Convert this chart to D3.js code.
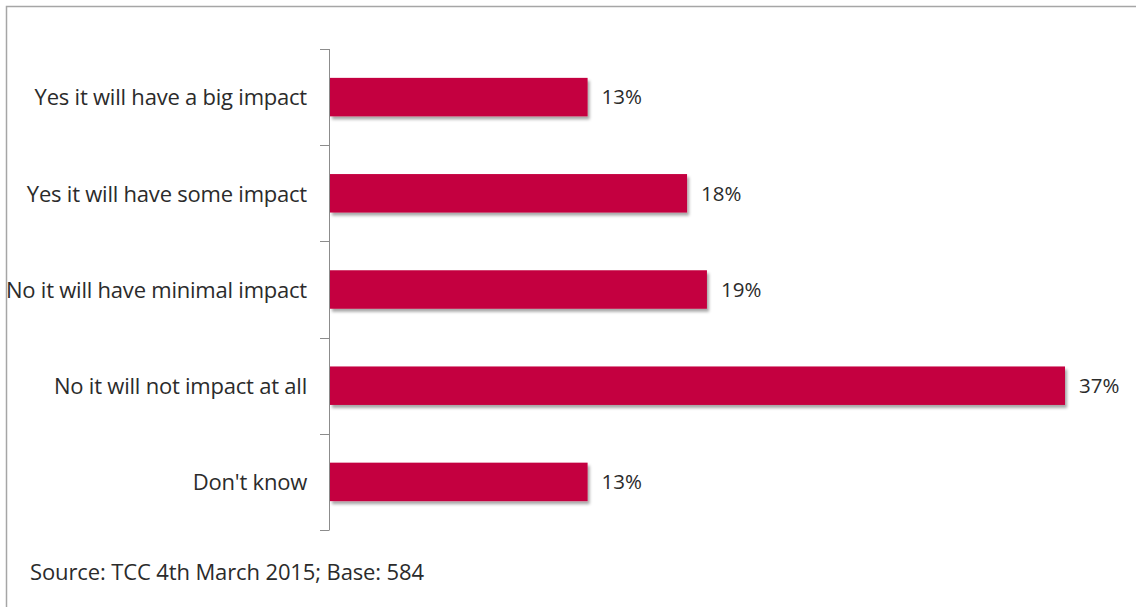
<!DOCTYPE html>
<html>
<head>
<meta charset="utf-8">
<script src="https://cdn.jsdelivr.net/npm/d3@7"></script>
<style>
  html, body { margin: 0; padding: 0; background: #fff; }
  svg { display: block; }
  text { font-family: "Open Sans", sans-serif; fill: #2b2b2b; }
</style>
</head>
<body>
<svg id="chart" width="1136" height="607"></svg>
<script>
// Survey answers, top to bottom
const categories = [
  "Yes it will have a big impact",
  "Yes it will have some impact",
  "No it will have minimal impact",
  "No it will not impact at all",
  "Don't know"
];
// Share of respondents, percent
const values = [13, 18, 19, 37, 13];
const sourceNote = "Source: TCC 4th March 2015; Base: 584";

const svg = d3.select("#chart");
const W = 1136, H = 607;
const FONT = "'Open Sans', sans-serif";

// Outer frame (top and left edges visible)
svg.append("path")
  .attr("d", `M6.5,${H} L6.5,6.5 L${W},6.5`)
  .attr("fill", "none")
  .attr("stroke", "#a6a6a6")
  .attr("stroke-width", 1.5);

const defs = svg.append("defs");
const f = defs.append("filter").attr("id", "shadow")
  .attr("x", "-5%").attr("y", "-20%").attr("width", "110%").attr("height", "160%");
f.append("feDropShadow")
  .attr("dx", 2).attr("dy", 3).attr("stdDeviation", 1.4)
  .attr("flood-color", "#000").attr("flood-opacity", 0.35);

const x0 = 329;
const x = d3.scaleLinear().domain([0, 37]).range([x0, 1065]);
const y = d3.scaleBand().domain(categories).range([49, 530])
  .paddingInner(0.6).paddingOuter(0.3);

// Category axis
const axis = d3.axisLeft(y).tickSize(0).tickPadding(22).tickFormat(d => d);
const gAxis = svg.append("g").attr("transform", `translate(${x0},0)`).call(axis);
gAxis.select(".domain").remove();
gAxis.selectAll("text")
  .attr("dy", "0.38em")
  .style("font-family", FONT)
  .style("font-size", "22px")
  .style("letter-spacing", "-0.22px")
  .attr("fill", "#2b2b2b");

// Axis line and band-boundary ticks
const bounds = d3.range(categories.length + 1).map(i => 49 + i * (481 / categories.length));
svg.append("line")
  .attr("x1", x0 + 0.5).attr("x2", x0 + 0.5)
  .attr("y1", bounds[0]).attr("y2", bounds[bounds.length - 1])
  .attr("stroke", "#8c8c8c").attr("stroke-width", 1);
svg.selectAll(".tickmark").data(bounds).enter().append("line")
  .attr("class", "tickmark")
  .attr("x1", x0 - 9).attr("x2", x0 + 0.5)
  .attr("y1", d => Math.round(d) + 0.5).attr("y2", d => Math.round(d) + 0.5)
  .attr("stroke", "#8c8c8c").attr("stroke-width", 1);

// Bars
const data = categories.map((c, i) => ({ c, v: values[i] }));
svg.selectAll(".bar").data(data).enter().append("rect")
  .attr("class", "bar")
  .attr("x", x0 + 1)
  .attr("y", d => y(d.c))
  .attr("width", d => x(d.v) - x0 - 1)
  .attr("height", y.bandwidth())
  .attr("fill", "#c4003f")
  .attr("filter", "url(#shadow)");

// Value labels
svg.selectAll(".val").data(data).enter().append("text")
  .attr("class", "val")
  .attr("x", d => x(d.v) + 14)
  .attr("y", d => y(d.c) + y.bandwidth() / 2)
  .attr("dy", "0.36em")
  .style("font-size", "20.5px")
  .attr("fill", "#3a3a3a")
  .text(d => d.v + "%");

// Source note
svg.append("text")
  .attr("x", 30).attr("y", 580)
  .style("font-size", "22px")
  .style("letter-spacing", "-0.12px")
  .text(sourceNote);
</script>
</body>
</html>
